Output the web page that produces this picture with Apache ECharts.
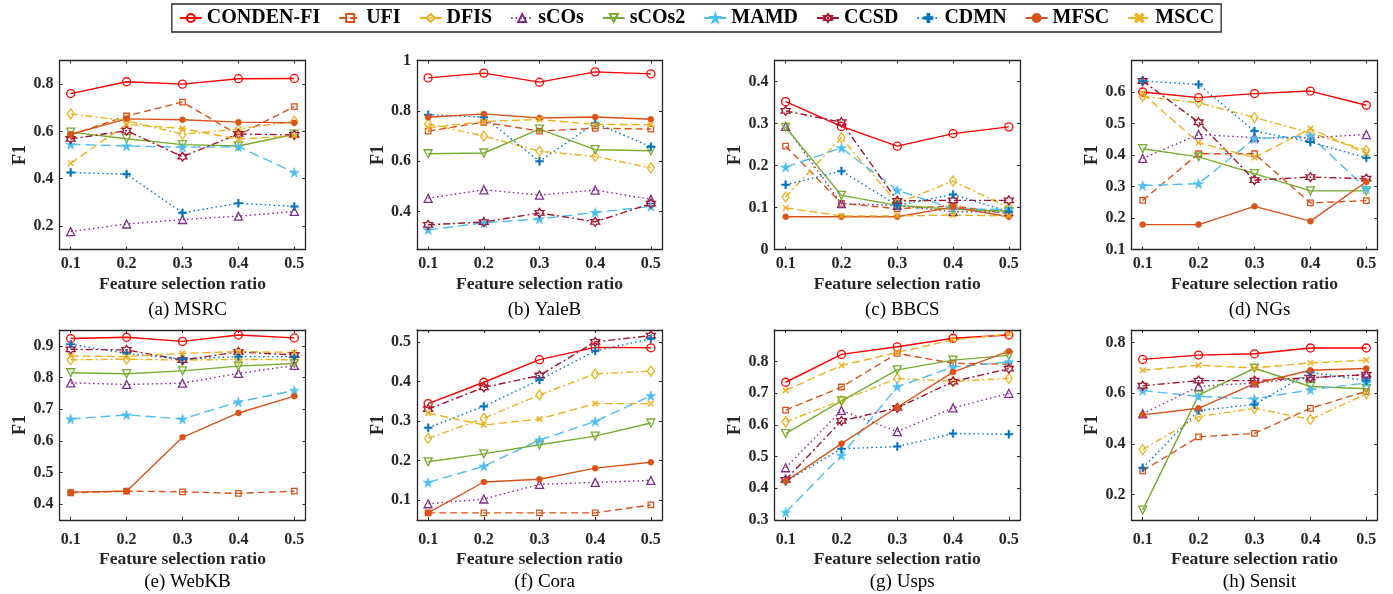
<!DOCTYPE html>
<html>
<head>
<meta charset="utf-8">
<script src="https://cdn.jsdelivr.net/npm/echarts@6/dist/echarts.min.js"></script>
<style>html,body{margin:0;padding:0;background:#fff}#c{width:1393px;height:594px}</style>
</head>
<body>
<div id="c"></div>
<script>
// ---------------- data ----------------
const ratios = [0.1, 0.2, 0.3, 0.4, 0.5];
const xTicks = [0.1, 0.2, 0.3, 0.4, 0.5];
const panelTitles = ['(a) MSRC', '(b) YaleB', '(c) BBCS', '(d) NGs', '(e) WebKB', '(f) Cora', '(g) Usps', '(h) Sensit'];
const yMin = [0.1, 0.25, 0, 0.1, 0.35, 0.05, 0.3, 0.1];
const yMax = [0.9, 1, 0.45, 0.7, 0.95, 0.53, 0.9, 0.85];
const yTicks = [
  [0.2, 0.4, 0.6, 0.8],
  [0.4, 0.6, 0.8, 1],
  [0, 0.1, 0.2, 0.3, 0.4],
  [0.1, 0.2, 0.3, 0.4, 0.5, 0.6],
  [0.4, 0.5, 0.6, 0.7, 0.8, 0.9],
  [0.1, 0.2, 0.3, 0.4, 0.5],
  [0.3, 0.4, 0.5, 0.6, 0.7, 0.8],
  [0.2, 0.4, 0.6, 0.8]
];
const methods = ['CONDEN-FI', 'UFI', 'DFIS', 'sCOs', 'sCOs2', 'MAMD', 'CCSD', 'CDMN', 'MFSC', 'MSCC'];

// rows: MSRC, YaleB, BBCS, NGs, WebKB, Cora, Usps, Sensit
const CONDEN_FI = [
  [0.76, 0.81, 0.80, 0.823, 0.824],
  [0.931, 0.95, 0.914, 0.955, 0.947],
  [0.352, 0.293, 0.246, 0.276, 0.292],
  [0.60, 0.582, 0.595, 0.603, 0.558],
  [0.923, 0.927, 0.914, 0.934, 0.925],
  [0.344, 0.398, 0.455, 0.486, 0.485],
  [0.735, 0.823, 0.847, 0.874, 0.884],
  [0.734, 0.751, 0.756, 0.779, 0.779]
];
const UFI = [
  [0.585, 0.665, 0.724, 0.585, 0.705],
  [0.72, 0.755, 0.72, 0.731, 0.728],
  [0.246, 0.11, 0.097, 0.104, 0.085],
  [0.256, 0.404, 0.404, 0.248, 0.255],
  [0.436, 0.441, 0.439, 0.434, 0.441],
  [0.068, 0.068, 0.068, 0.068, 0.088],
  [0.647, 0.72, 0.826, 0.795, 0.792],
  [0.294, 0.428, 0.442, 0.541, 0.608]
];
const DFIS = [
  [0.674, 0.645, 0.588, 0.61, 0.643],
  [0.748, 0.70, 0.64, 0.619, 0.574],
  [0.125, 0.266, 0.11, 0.163, 0.10],
  [0.586, 0.566, 0.519, 0.47, 0.415],
  [0.856, 0.858, 0.855, 0.857, 0.856],
  [0.256, 0.307, 0.366, 0.419, 0.426],
  [0.61, 0.677, 0.747, 0.738, 0.747],
  [0.378, 0.508, 0.541, 0.497, 0.598]
];
const sCOs = [
  [0.176, 0.208, 0.227, 0.241, 0.261],
  [0.453, 0.487, 0.466, 0.486, 0.449],
  [0.293, 0.109, 0.105, 0.09, 0.09],
  [0.389, 0.465, 0.455, 0.455, 0.465],
  [0.783, 0.778, 0.782, 0.813, 0.838],
  [0.091, 0.103, 0.14, 0.145, 0.15],
  [0.465, 0.646, 0.579, 0.654, 0.70],
  [0.519, 0.627, 0.641, 0.661, 0.674]
];
const sCOs2 = [
  [0.597, 0.569, 0.544, 0.538, 0.588],
  [0.630, 0.633, 0.728, 0.646, 0.642],
  [0.291, 0.129, 0.105, 0.096, 0.091],
  [0.42, 0.394, 0.341, 0.286, 0.286],
  [0.815, 0.812, 0.821, 0.836, 0.844],
  [0.197, 0.217, 0.24, 0.262, 0.295],
  [0.573, 0.676, 0.774, 0.805, 0.82],
  [0.139, 0.593, 0.699, 0.627, 0.618]
];
const MAMD = [
  [0.545, 0.538, 0.533, 0.535, 0.426],
  [0.328, 0.356, 0.371, 0.397, 0.421],
  [0.196, 0.242, 0.141, 0.097, 0.095],
  [0.303, 0.309, 0.452, 0.461, 0.293],
  [0.669, 0.682, 0.669, 0.723, 0.759],
  [0.145, 0.186, 0.252, 0.299, 0.364],
  [0.324, 0.504, 0.721, 0.783, 0.799],
  [0.611, 0.588, 0.578, 0.614, 0.641]
];
const CCSD = [
  [0.568, 0.603, 0.493, 0.589, 0.585],
  [0.348, 0.359, 0.395, 0.36, 0.432],
  [0.33, 0.303, 0.116, 0.117, 0.117],
  [0.635, 0.504, 0.32, 0.33, 0.325],
  [0.889, 0.887, 0.855, 0.881, 0.871],
  [0.33, 0.385, 0.415, 0.5, 0.516],
  [0.427, 0.613, 0.654, 0.737, 0.778],
  [0.63, 0.65, 0.65, 0.662, 0.674]
];
const CDMN = [
  [0.426, 0.419, 0.255, 0.296, 0.282],
  [0.785, 0.775, 0.60, 0.752, 0.658],
  [0.154, 0.187, 0.105, 0.131, 0.09],
  [0.635, 0.624, 0.476, 0.441, 0.391],
  [0.905, 0.876, 0.858, 0.866, 0.866],
  [0.283, 0.337, 0.404, 0.477, 0.508],
  [0.422, 0.525, 0.532, 0.573, 0.571],
  [0.306, 0.532, 0.556, 0.683, 0.65]
];
const MFSC = [
  [0.588, 0.653, 0.649, 0.639, 0.636],
  [0.775, 0.788, 0.772, 0.776, 0.767],
  [0.078, 0.078, 0.078, 0.101, 0.078],
  [0.179, 0.179, 0.237, 0.19, 0.315],
  [0.438, 0.441, 0.611, 0.688, 0.741],
  [0.068, 0.146, 0.153, 0.181, 0.196],
  [0.422, 0.541, 0.656, 0.767, 0.833],
  [0.515, 0.541, 0.638, 0.691, 0.698]
];
const MSCC = [
  [0.465, 0.63, 0.612, 0.567, 0.581],
  [0.733, 0.758, 0.766, 0.746, 0.746],
  [0.099, 0.08, 0.08, 0.082, 0.08],
  [0.595, 0.439, 0.392, 0.484, 0.405],
  [0.868, 0.866, 0.876, 0.882, 0.879],
  [0.32, 0.29, 0.305, 0.344, 0.344],
  [0.709, 0.788, 0.829, 0.869, 0.887],
  [0.691, 0.711, 0.70, 0.72, 0.731]
];
const seriesValues = [CONDEN_FI, UFI, DFIS, sCOs, sCOs2, MAMD, CCSD, CDMN, MFSC, MSCC];

// ---------------- styles ----------------
const SYM_DOWN = 'path://M0,0 L10,0 L5,9 Z';
const SYM_STAR = 'path://M5,0 L6.18,3.62 L10,3.62 L6.91,5.85 L8.09,9.5 L5,7.24 L1.91,9.5 L3.09,5.85 L0,3.62 L3.82,3.62 Z';
const SYM_HEX = 'path://M5,0 L6.44,2.5 L9.33,2.5 L7.89,5 L9.33,7.5 L6.44,7.5 L5,10 L3.56,7.5 L0.67,7.5 L2.11,5 L0.67,2.5 L3.56,2.5 Z';
const SYM_PLUS = 'path://M4,0 H6 V4 H10 V6 H6 V10 H4 V6 H0 V4 H4 Z';
const SYM_X = 'path://M1.4,0 L5,3.6 L8.6,0 L10,1.4 L6.4,5 L10,8.6 L8.6,10 L5,6.4 L1.4,10 L0,8.6 L3.6,5 L0,1.4 Z';

const styles = [
  {c: '#FF0000', dash: 'solid', sym: 'circle', size: 8, open: true},
  {c: '#D95319', dash: [7, 4], sym: 'rect', size: 5.5, open: true},
  {c: '#EDB120', dash: [7, 3, 2, 3], sym: 'diamond', size: [7, 10], open: true},
  {c: '#7E2F8E', dash: [1.5, 3], sym: 'triangle', size: 8, open: true},
  {c: '#77AC30', dash: 'solid', sym: SYM_DOWN, size: 8, open: true},
  {c: '#4DBEEE', dash: [10, 5], sym: SYM_STAR, size: 10, open: false},
  {c: '#A2142F', dash: [7, 3, 2, 3], sym: SYM_HEX, size: 9, open: true},
  {c: '#0072BD', dash: [1.5, 3], sym: SYM_PLUS, size: 8, open: false},
  {c: '#D95319', dash: 'solid', sym: 'circle', size: 6, open: false},
  {c: '#EDB120', dash: [8, 4], sym: SYM_X, size: 6, open: false}
];

// ---------------- layout ----------------
const colLeft = [59.5, 417, 774.5, 1131.5];
const colWidth = [246, 245, 245.5, 246];
const rowTop = [60.5, 330];
const rowHeight = [189, 190];
const rowLabelMargin = [6, 12];
const rowNameGap = [26, 30];
const rowTitleTop = [294, 566];

const FONT = 'Liberation Serif';
const AX = '#262626';

const grids = [], xAxes = [], yAxes = [], series = [], titles = [];
for (let p = 0; p < 8; p++) {
  const r = Math.floor(p / 4), col = p % 4;
  grids.push({left: colLeft[col], top: rowTop[r], width: colWidth[col], height: rowHeight[r],
    show: false, containLabel: false});
  const axLine = {show: true, onZero: false, lineStyle: {color: AX, width: 1.3}};
  xAxes.push({
    type: 'value', gridIndex: p, position: 'bottom', min: 0.08, max: 0.52,
    axisLine: axLine,
    axisTick: {show: true, inside: true, length: 3, lineStyle: {color: AX}, customValues: xTicks},
    axisLabel: {show: true, margin: rowLabelMargin[r], customValues: xTicks, color: AX, fontFamily: FONT,
      fontWeight: 'bold', fontSize: 16, formatter: v => String(v)},
    splitLine: {show: false},
    name: 'Feature selection ratio', nameLocation: 'middle', nameGap: rowNameGap[r],
    nameTextStyle: {fontFamily: FONT, fontWeight: 'bold', fontSize: 17.5, color: AX}
  });
  xAxes.push({
    type: 'value', gridIndex: p, position: 'top', min: 0.08, max: 0.52,
    axisLine: axLine,
    axisTick: {show: true, inside: true, length: 3, lineStyle: {color: AX}, customValues: xTicks},
    axisLabel: {show: false}, splitLine: {show: false}
  });
  yAxes.push({
    type: 'value', gridIndex: p, position: 'left', min: yMin[p], max: yMax[p],
    axisLine: axLine,
    axisTick: {show: true, inside: true, length: 3, lineStyle: {color: AX}, customValues: yTicks[p]},
    axisLabel: {show: true, margin: 6, customValues: yTicks[p], color: AX, fontFamily: FONT,
      fontWeight: 'bold', fontSize: 16, formatter: v => String(v)},
    splitLine: {show: false},
    name: 'F1', nameLocation: 'middle', nameGap: 30,
    nameTextStyle: {fontFamily: FONT, fontWeight: 'bold', fontSize: 18, color: AX}
  });
  yAxes.push({
    type: 'value', gridIndex: p, position: 'right', min: yMin[p], max: yMax[p],
    axisLine: axLine,
    axisTick: {show: true, inside: true, length: 3, lineStyle: {color: AX}, customValues: yTicks[p]},
    axisLabel: {show: false}, splitLine: {show: false}
  });
  titles.push({
    text: panelTitles[p], left: colLeft[col] + colWidth[col] / 2, top: rowTitleTop[r],
    textAlign: 'center',
    textStyle: {fontFamily: FONT, fontWeight: 'normal', fontSize: 19, color: '#000', lineHeight: 22}
  });
  for (let m = 0; m < methods.length; m++) {
    const s = styles[m];
    const vals = seriesValues[m][p];
    series.push({
      name: methods[m], type: 'line', xAxisIndex: 2 * p, yAxisIndex: 2 * p,
      data: ratios.map((x, i) => [x, vals[i]]),
      symbol: s.sym, symbolSize: s.size, showAllSymbol: true,
      lineStyle: {color: s.c, width: 1.4, type: s.dash},
      itemStyle: s.open ? {color: 'rgba(255,255,255,0)', borderColor: s.c, borderWidth: 1.3}
                        : {color: s.c, borderColor: s.c, borderWidth: 0.5},
      emphasis: {disabled: true}, animation: false
    });
  }
}

const chart = echarts.init(document.getElementById('c'), null, {renderer: 'canvas'});
chart.setOption({
  backgroundColor: '#fff',
  animation: false,
  title: titles,
  legend: {
    data: methods, top: 4, left: 'center', orient: 'horizontal',
    itemWidth: 22, itemHeight: 10, itemGap: 18,
    padding: [4, 7],
    borderColor: AX, borderWidth: 1.3,
    textStyle: {fontFamily: FONT, fontWeight: 'bold', fontSize: 20, color: '#000'}
  },
  grid: grids, xAxis: xAxes, yAxis: yAxes, series: series
});
</script>
</body>
</html>
